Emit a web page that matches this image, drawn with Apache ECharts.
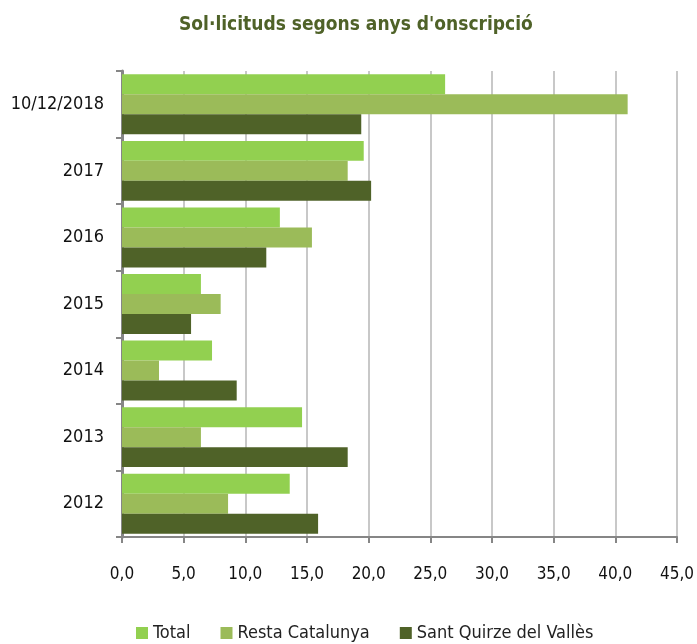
<!DOCTYPE html>
<html>
<head>
<meta charset="utf-8">
<script src="https://cdn.jsdelivr.net/npm/echarts@6/dist/echarts.min.js"></script>
<style>
  html, body { margin: 0; padding: 0; background: #fff; }
  #chart { width: 697px; height: 644px; }
</style>
</head>
<body>
<div id="chart"></div>
<script>
// categories from bottom to top
const years = ['2012', '2013', '2014', '2015', '2016', '2017', '10/12/2018'];
const total = [13.6, 14.6, 7.3, 6.4, 12.8, 19.6, 26.2];
const restaCatalunya = [8.6, 6.4, 3.0, 8.0, 15.4, 18.3, 41.0];
const santQuirze = [15.9, 18.3, 9.3, 5.6, 11.7, 20.2, 19.4];

const fontFam = '"Liberation Sans Narrow", "DejaVu Sans Condensed", "Liberation Sans", sans-serif';

const myChart = echarts.init(document.getElementById('chart'));

const option = {
    backgroundColor: '#ffffff',
    animation: false,
    textStyle: { fontFamily: fontFam },
    title: {
        text: "Sol·licituds segons anys d'onscripció",
        left: 174,
        top: 11,
        textStyle: {
            color: '#4F6228',
            fontSize: 19,
            fontWeight: 'bold',
            fontFamily: fontFam
        }
    },
    legend: {
        data: ['Total', 'Resta Catalunya', 'Sant Quirze del Vallès'],
        bottom: -3,
        left: 131,
        icon: 'rect',
        itemWidth: 12,
        itemHeight: 12,
        itemGap: 30,
        textStyle: { fontSize: 18, color: '#222', fontFamily: fontFam }
    },
    grid: {
        left: 122,
        right: 14,
        top: 71,
        bottom: 107,
        containLabel: false
    },
    xAxis: {
        type: 'value',
        min: 0,
        max: 45,
        interval: 5,
        axisLine: { show: true, lineStyle: { color: '#868686', width: 2 } },
        axisTick: { show: true, length: 6, lineStyle: { color: '#868686', width: 2 } },
        axisLabel: {
            color: '#111',
            fontSize: 17,
            margin: 29,
            fontFamily: fontFam,
            formatter: v => v.toFixed(1).replace('.', ',')
        },
        splitLine: { show: true, lineStyle: { color: '#C8C8C8', width: 2 } }
    },
    yAxis: {
        type: 'category',
        data: years,
        axisLine: { show: true, lineStyle: { color: '#868686', width: 3 } },
        axisTick: { show: true, length: 6, lineStyle: { color: '#868686', width: 2 } },
        axisLabel: { color: '#111', fontSize: 18, margin: 18, fontFamily: fontFam }
    },
    series: [
        {
            name: 'Total',
            type: 'bar',
            data: total,
            color: '#92D050',
            barGap: '0%',
            barCategoryGap: '10%'
        },
        {
            name: 'Resta Catalunya',
            type: 'bar',
            data: restaCatalunya,
            color: '#9BBB59'
        },
        {
            name: 'Sant Quirze del Vallès',
            type: 'bar',
            data: santQuirze,
            color: '#4F6228'
        }
    ]
};

myChart.setOption(option);
</script>
</body>
</html>
